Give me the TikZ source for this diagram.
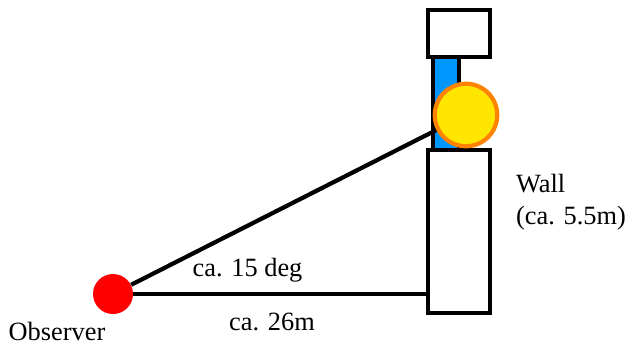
\documentclass[tikz,border=0pt]{standalone}
\usepackage{fontspec}
\setmainfont{Liberation Serif}
\newfontfamily\timesfont{Liberation Serif}
\usetikzlibrary{arrows.meta}

\definecolor{barblue}{RGB}{0,150,255}
\definecolor{sunyellow}{RGB}{255,230,0}
\definecolor{sunorange}{RGB}{255,130,0}

\begin{document}
\begin{tikzpicture}[
    block/.style={rectangle, draw, line width=2pt, fill=white,
                  minimum width=1.24cm, inner sep=0pt},
    label/.style={font=\timesfont\fontsize{15}{18}\selectfont, inner sep=1pt},
    sight/.style={line width=2.4pt}
]
\useasboundingbox (0,0) rectangle (12.5,6.92);

% Mauer mit Aufsatz
\node[rectangle, fill=barblue, draw, line width=2pt, minimum width=0.52cm,
      minimum height=1.86cm, inner sep=0pt] (bar) at (8.92,4.85) {};
\node[block, minimum height=0.94cm] (cap) at (9.18,6.25) {};
\node[block, minimum height=3.26cm] (wall) at (9.18,2.29) {};

% Beobachter
\node[circle, fill=red, minimum size=0.8cm, inner sep=0pt] (obs) at (2.26,1.04) {};

% Sonne
\node[circle, fill=sunyellow, draw=sunorange, line width=2.4pt,
      minimum size=1.25cm, inner sep=0pt] (sun) at (9.32,4.62) {};

% Linien
\draw[sight] (obs) -- (obs -| wall.west);
\draw[sight] (obs) -- (sun);

% Beschriftung
\node[label] (angle) at (4.95,1.52) {ca. 15 deg};
\node[label] (dist) at (5.44,0.48) {ca. 26m};
\node[label] (obsname) at (1.14,0.3) {Observer};
\node[label, align=left, anchor=west] (wallname) at (10.28,2.88)
    {Wall\\(ca. 5.5m)};

\end{tikzpicture}
\end{document}
